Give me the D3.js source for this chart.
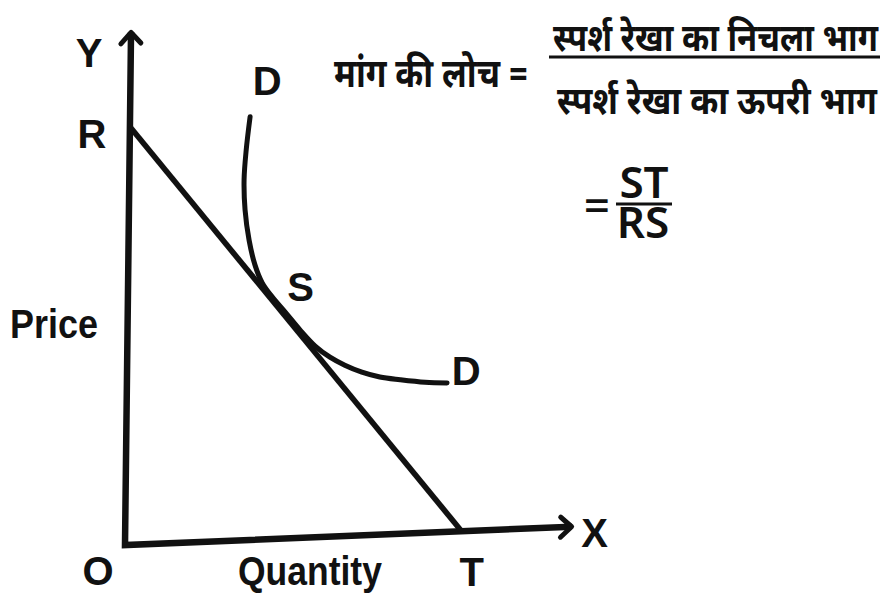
<!DOCTYPE html>
<html>
<head>
<meta charset="utf-8">
<script src="https://cdn.jsdelivr.net/npm/d3@7"></script>
<style>
  html, body { margin: 0; padding: 0; background: #fff; }
  svg { display: block; }
</style>
</head>
<body>
<svg id="chart" width="883" height="594"></svg>
<script>
// Demand curve DD: quantity and price of each traced point
const demandQuantity = [2.73, 2.65, 2.61, 2.64, 2.74, 2.88, 3.05, 3.28, 3.58, 3.92, 4.27, 4.61, 4.95, 5.34, 5.75, 6.21, 6.78, 7.28];
const demandPrice    = [8.30, 7.65, 7.07, 6.48, 5.88, 5.39, 5.03, 4.75, 4.44, 4.08, 3.75, 3.52, 3.35, 3.20, 3.09, 3.02, 2.95, 2.92];

// Tangent RT touching DD at S
const tangentQuantity = [0, 7.65];
const tangentPrice    = [8.2, 0];
const pointS = [3.75, 4.18];

// Axis extents (quantity end of OX, price end of OY)
const axisQuantityMax = 10.15;
const axisPriceMax = 10.05;

// Text
const axisTitles = ["Price", "Quantity"];
const pointLabels = ["Y", "R", "D", "S", "D", "O", "T", "X"];
const formulaLeft = "मांग की लोच =";
const formulaNumerator = "स्पर्श रेखा का निचला भाग";
const formulaDenominator = "स्पर्श रेखा का ऊपरी भाग";
const ratioNumerator = "ST";
const ratioDenominator = "RS";

const svg = d3.select("#chart");
const ink = "#111";

const x = d3.scaleLinear().domain([0, 10]).range([0, 440]);
const y = d3.scaleLinear().domain([0, 10]).range([0, -510]);

// The page is slightly skewed: both axes lean a little
const M = { a: 1, b: -0.0409, c: -0.01176, d: 1, e: 125, f: 545 };
function project(q, p) {
  const lx = x(q), ly = y(p);
  return [M.a * lx + M.c * ly + M.e, M.b * lx + M.d * ly + M.f];
}

const defs = svg.append("defs");
defs.append("marker")
  .attr("id", "arrow")
  .attr("viewBox", "-16 -14 22 28")
  .attr("refX", 0).attr("refY", 0)
  .attr("markerWidth", 22).attr("markerHeight", 28)
  .attr("markerUnits", "userSpaceOnUse")
  .attr("orient", "auto-start-reverse")
  .append("path")
  .attr("d", "M-11,-10L0,0L-11,10")
  .attr("fill", "none")
  .attr("stroke", ink)
  .attr("stroke-width", 5)
  .attr("stroke-linejoin", "round")
  .attr("stroke-linecap", "round");

const plot = svg.append("g")
  .attr("transform", `matrix(${M.a},${M.b},${M.c},${M.d},${M.e},${M.f})`);

const line = d3.line().x(d => x(d[0])).y(d => y(d[1]));

// Axes OY and OX
plot.append("path")
  .datum([[0, axisPriceMax], [0, 0], [axisQuantityMax, 0]])
  .attr("d", line)
  .attr("fill", "none")
  .attr("stroke", ink)
  .attr("stroke-width", 6.5)
  .attr("stroke-linejoin", "miter")
  .attr("marker-start", "url(#arrow)")
  .attr("marker-end", "url(#arrow)");

// Tangent RT
plot.append("path")
  .datum(tangentQuantity.map((q, i) => [q, tangentPrice[i]]))
  .attr("d", line)
  .attr("fill", "none")
  .attr("stroke", ink)
  .attr("stroke-width", 5.5)
  .attr("stroke-linecap", "butt");

// Demand curve DD
plot.append("path")
  .datum(demandQuantity.map((q, i) => [q, demandPrice[i]]))
  .attr("d", line.curve(d3.curveCatmullRom.alpha(0.5)))
  .attr("fill", "none")
  .attr("stroke", ink)
  .attr("stroke-width", 5)
  .attr("stroke-linecap", "round");

// Point labels
const latin = "'Liberation Sans', Arial, sans-serif";
const n = demandQuantity.length - 1;
const anchors = [
  [project(0, axisPriceMax), -42, 35],
  [project(tangentQuantity[0], tangentPrice[0]), -38, 21],
  [project(demandQuantity[0], demandPrice[0]), 17, -22],
  [project(pointS[0], pointS[1]), 8, -24],
  [project(demandQuantity[n], demandPrice[n]), 19, 2],
  [project(0, 0), -27, 40],
  [project(tangentQuantity[1], tangentPrice[1]), 10, 55],
  [project(axisQuantityMax, 0), 23, 20]
];
svg.append("g")
  .selectAll("text")
  .data(pointLabels)
  .join("text")
  .attr("x", (d, i) => anchors[i][0][0] + anchors[i][1])
  .attr("y", (d, i) => anchors[i][0][1] + anchors[i][2])
  .attr("text-anchor", "middle")
  .attr("font-family", latin)
  .attr("font-weight", "bold")
  .attr("font-size", 40)
  .attr("fill", ink)
  .text(d => d);

// Squeeze a text horizontally so that it spans the given width
function fitText(sel, left, baseline, width) {
  const natural = sel.node().getComputedTextLength();
  sel.attr("x", 0).attr("y", 0)
    .attr("transform", `translate(${left},${baseline}) scale(${width / natural},1)`);
  return sel;
}

// Axis titles
fitText(svg.append("text")
  .attr("font-family", latin).attr("font-weight", "bold").attr("font-size", 40)
  .attr("fill", ink)
  .text(axisTitles[0]), 10, 338, 88);
fitText(svg.append("text")
  .attr("font-family", latin).attr("font-weight", "bold").attr("font-size", 40)
  .attr("fill", ink)
  .text(axisTitles[1]), 238, 585, 144);

// Elasticity formula
const deva = "'Noto Sans Devanagari', 'Lohit Devanagari', 'FreeSans', 'Mangal', sans-serif";
const formula = svg.append("g").attr("fill", ink).attr("font-family", deva).attr("font-weight", "bold");
fitText(formula.append("text").attr("font-size", 40).text(formulaLeft), 334, 87, 194);
fitText(formula.append("text").attr("font-size", 38).text(formulaNumerator), 553, 51, 325);
formula.append("line")
  .attr("x1", 549).attr("x2", 880).attr("y1", 57).attr("y2", 57)
  .attr("stroke", ink).attr("stroke-width", 3);
fitText(formula.append("text").attr("font-size", 38).text(formulaDenominator), 557, 114, 320);

// = ST / RS, stacked as one fraction
const ratio = svg.append("g").attr("fill", ink).attr("font-family", "'Noto Sans', 'Open Sans', sans-serif").attr("font-weight", 600);
const fraction = ratio.append("text").attr("text-anchor", "middle").attr("font-size", 44);
fraction.append("tspan").attr("x", 644).attr("y", 198).text(ratioNumerator);
fraction.append("tspan").attr("x", 643).attr("y", 238).text(ratioDenominator);
ratio.append("line").attr("x1", 616).attr("x2", 672).attr("y1", 204).attr("y2", 204).attr("stroke", ink).attr("stroke-width", 3);
ratio.append("text").attr("x", 597).attr("y", 222).attr("text-anchor", "middle").attr("font-size", 46).attr("font-weight", 500).text("=");
</script>
</body>
</html>
